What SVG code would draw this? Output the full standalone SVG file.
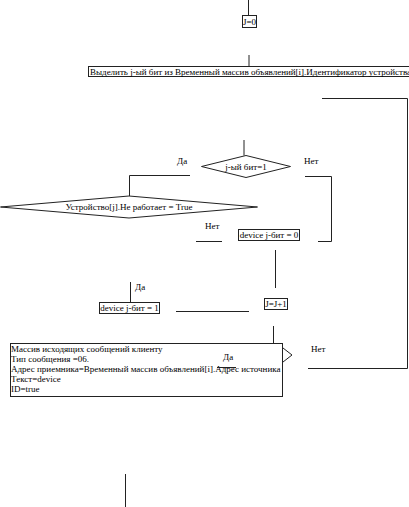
<svg xmlns="http://www.w3.org/2000/svg" width="409" height="507" viewBox="0 0 409 507">
<style>
.s{fill:none;stroke:#222;stroke-width:1}
.b{fill:#fff;stroke:#222;stroke-width:1}
text{font-family:"Liberation Serif","Times New Roman",serif;font-size:9px;fill:#000}
.m{text-anchor:middle}
</style>
<rect width="409" height="507" fill="#fff"/>
<g id="connectors">
<path class="s" d="M248.5,0V15"/>
<path class="s" d="M249,55V66"/>
<path class="s" d="M322,98.5H407.5V368.5H308"/>
<path class="s" d="M244,140V155.5"/>
<path class="s" d="M305,176.5H331.5V241.5H318"/>
<path class="s" d="M190,175.5H129.5V196"/>
<path class="s" d="M196,241.5H222"/>
<path class="s" d="M275.5,250V288"/>
<path class="s" d="M130.5,282V302"/>
<path class="s" d="M176,311.5H249"/>
<path class="s" d="M273.5,326V343"/>
<path class="s" d="M283,348L292,355L283,362"/>
<path class="s" d="M125.5,474V507"/>
</g>
<g id="n_j0"><rect class="b" x="242.5" y="15.5" width="14" height="12"/><text class="m" x="249.5" y="24.5">J=0</text></g>
<g id="n_select"><rect class="b" x="88.5" y="66.5" width="330" height="10"/><text x="90" y="74.5">Выделить j-ый бит из Временный массив объявлений[i].Идентификатор устройства</text></g>
<g id="n_bit1"><polygon class="b" points="201.5,166.5 246,155.5 290.5,166.5 246,177.5"/><text class="m" x="246" y="169.5">j-ый бит=1</text></g>
<g id="n_device"><polygon class="b" points="0.5,207 129,196 257.5,207 129,218"/><text class="m" x="129" y="210">Устройство[j].Не работает = True</text></g>
<g id="n_dev0"><rect class="b" x="238.5" y="229.5" width="61" height="11"/><text class="m" x="269" y="238">device j-бит = 0</text></g>
<g id="n_dev1"><rect class="b" x="99.5" y="302.5" width="60" height="11"/><text class="m" x="129.5" y="311">device j-бит = 1</text></g>
<g id="n_jinc"><rect class="b" x="264.5" y="298.5" width="23" height="11"/><text class="m" x="276" y="307">J=J+1</text></g>
<g id="n_msg"><rect class="b" x="10.5" y="343.5" width="272" height="53"/>
<text x="11" y="352">Массив исходящих сообщений клиенту</text>
<text x="11" y="362">Тип сообщения =06.</text>
<text x="11" y="372">Адрес приемника=Временный массив объявлений[i].Адрес источника</text>
<text x="11" y="382">Текст=device</text>
<text x="11" y="392">ID=true</text>
</g>
<g id="labels">
<text x="177" y="164">Да</text>
<text x="304" y="164">Нет</text>
<text x="205" y="229">Нет</text>
<text x="135" y="290">Да</text>
<text x="223" y="360">Да</text>
<text x="311" y="352">Нет</text>
</g>
<path class="s" d="M217,367.5H236"/>
</svg>
